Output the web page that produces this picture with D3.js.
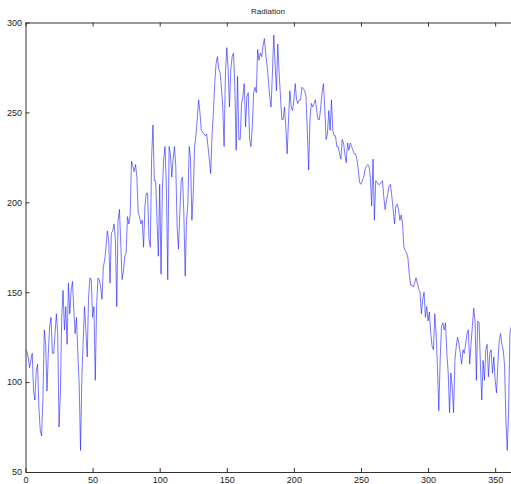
<!DOCTYPE html>
<html>
<head>
<meta charset="utf-8">
<script src="https://cdn.jsdelivr.net/npm/d3@7"></script>
<style>
  body { margin: 0; background: #fff; }
  text { font-family: "Liberation Sans", Arial, sans-serif; }
</style>
</head>
<body>
<div id="chart"></div>
<script>
// daily radiation values, day 0..364
const radiation = [
  118, 117, 114, 108, 112, 116, 95, 90, 106, 110,
  86, 73, 70, 91, 129, 121, 95, 116, 131, 136,
  116, 116, 127, 138, 127, 75, 94, 136, 151, 129,
  142, 121, 155, 138, 151, 156, 140, 127, 136, 116,
  99, 62, 103, 123, 142, 129, 114, 147, 158, 157,
  136, 142, 101, 142, 158, 157, 153, 146, 164, 168,
  175, 184, 179, 155, 183, 184, 188, 179, 142, 190,
  196, 177, 157, 162, 170, 172, 192, 188, 193, 223,
  220, 217, 221, 214, 194, 192, 188, 190, 175, 198,
  205, 205, 180, 175, 225, 243, 212, 212, 190, 170,
  210, 160, 208, 224, 231, 208, 157, 231, 227, 214,
  224, 231, 220, 186, 174, 194, 212, 214, 194, 159,
  190, 199, 231, 224, 190, 205, 231, 237, 246, 257,
  250, 240, 239, 238, 237, 238, 231, 224, 216, 237,
  250, 266, 277, 281, 274, 272, 264, 253, 231, 272,
  286, 274, 253, 274, 281, 283, 264, 229, 270, 235,
  235, 255, 259, 266, 242, 259, 261, 235, 231, 242,
  261, 264, 261, 285, 279, 283, 281, 287, 291, 283,
  276, 268, 259, 253, 272, 293, 277, 262, 288, 272,
  259, 246, 246, 253, 242, 227, 246, 262, 253, 251,
  257, 266, 257, 255, 257, 257, 264, 263, 262, 259,
  240, 218, 246, 255, 253, 255, 257, 251, 246, 246,
  253, 261, 266, 253, 235, 238, 251, 240, 257, 240,
  237, 237, 231, 231, 227, 224, 235, 233, 227, 222,
  233, 229, 233, 231, 229, 227, 227, 224, 218, 211,
  210, 212, 214, 218, 220, 221, 220, 214, 198, 224,
  190, 212, 211, 210, 210, 211, 212, 203, 196, 201,
  205, 209, 210, 203, 196, 188, 198, 199, 196, 190,
  193, 188, 175, 173, 172, 169, 160, 154, 154, 153,
  155, 158, 155, 152, 150, 138, 146, 150, 136, 142,
  134, 139, 127, 120, 118, 138, 127, 108, 84, 112,
  131, 133, 129, 133, 116, 105, 83, 105, 97, 83,
  112, 120, 125, 121, 116, 110, 118, 116, 121, 127,
  129, 110, 121, 131, 141, 134, 101, 134, 133, 110,
  90, 112, 101, 118, 121, 103, 116, 118, 105, 114,
  101, 94, 110, 123, 127, 121, 118, 109, 79, 62,
  84, 127, 131, 127, 130
];
const xTicks = [0, 50, 100, 150, 200, 250, 300, 350];
const yTicks = [50, 100, 150, 200, 250, 300];
const title = "Radiation";

const W = 511, H = 484;
const plotLeft = 25.5, plotTop = 22.5, plotRight = 515.3, plotBottom = 472;

const svg = d3.select("#chart").append("svg")
    .attr("width", W)
    .attr("height", H);

const x = d3.scaleLinear().domain([0, 365]).range([plotLeft, plotRight]);
const y = d3.scaleLinear().domain([50, 300]).range([plotBottom, plotTop]);

// the line
const line = d3.line()
    .x((d, i) => x(i))
    .y(d => y(d));

svg.append("path")
    .datum(radiation)
    .attr("fill", "none")
    .attr("stroke", "#1a1aff")
    .attr("stroke-width", 0.6)
    .attr("d", line);

// axes, matlab style box with inward ticks
const axisColor = "#333";

const gx = svg.append("g")
    .attr("transform", "translate(0," + plotBottom + ")")
    .call(d3.axisBottom(x).tickValues(xTicks).tickSizeInner(-4).tickSizeOuter(0).tickPadding(5));

const gxTop = svg.append("g")
    .attr("transform", "translate(0," + plotTop + ")")
    .call(d3.axisTop(x).tickValues(xTicks).tickSizeInner(-4).tickSizeOuter(0).tickFormat(""));

const gy = svg.append("g")
    .attr("transform", "translate(" + plotLeft + ",0)")
    .call(d3.axisLeft(y).tickValues(yTicks).tickSizeInner(-4).tickSizeOuter(0).tickPadding(3.5));

const gyRight = svg.append("g")
    .attr("transform", "translate(" + plotRight + ",0)")
    .call(d3.axisRight(y).tickValues(yTicks).tickSizeInner(-4).tickSizeOuter(0).tickFormat(""));

[gx, gxTop, gy, gyRight].forEach(g => {
    g.selectAll("path, line").attr("stroke", axisColor);
    g.selectAll("text")
        .attr("fill", "#222")
        .style("font-size", "9px");
});

// title
svg.append("text")
    .attr("x", 268)
    .attr("y", 14)
    .attr("text-anchor", "middle")
    .attr("fill", "#222")
    .style("font-size", "8px")
    .text(title);
</script>
</body>
</html>
